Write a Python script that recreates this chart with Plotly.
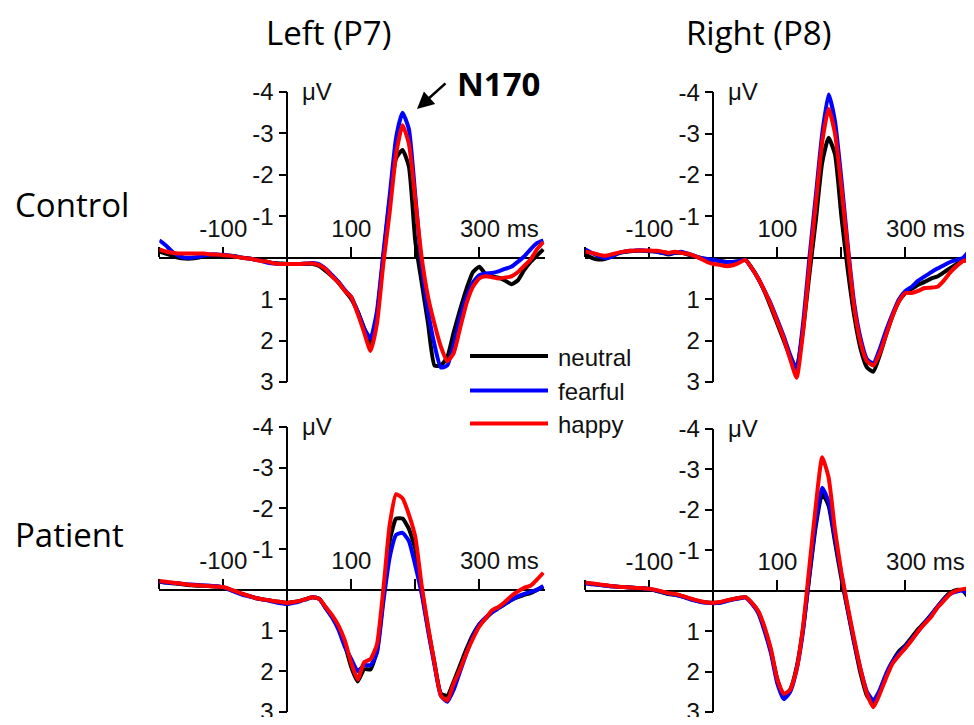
import plotly.graph_objects as go

# ---------------- data ----------------
time_ms = list(range(-200, 401, 10))

# Control, Left (P7)
ctrl_left_neutral = [-0.15, -0.1, -0.05, 0.0, 0.02, 0.02, 0.0, -0.03, -0.05, -0.05, -0.05, -0.05, -0.03, 0.0, 0.02, 0.04, 0.07, 0.1, 0.13, 0.14,
                     0.15, 0.15, 0.15, 0.15, 0.15, 0.2, 0.32, 0.45, 0.6, 0.8, 1.0, 1.3, 1.7, 2.1, 1.4, 0.0, -1.4, -2.4, -2.6, -2.2,
                     -0.4, 0.6, 1.6, 2.6, 2.6, 2.4, 1.8, 1.25, 0.75, 0.35, 0.22, 0.4, 0.45, 0.48, 0.55, 0.64, 0.55, 0.3, 0.1, -0.05, -0.2]
ctrl_left_fearful = [-0.42, -0.3, -0.15, -0.05, 0.0, 0.0, -0.02, -0.05, -0.08, -0.08, -0.07, -0.05, -0.03, 0.0, 0.02, 0.05, 0.08, 0.12, 0.14, 0.15,
                     0.15, 0.15, 0.15, 0.14, 0.13, 0.16, 0.27, 0.42, 0.58, 0.78, 0.95, 1.3, 1.7, 1.95, 1.3, -0.1, -1.5, -2.9, -3.5, -3.1,
                     -1.5, 0.2, 1.3, 2.1, 2.65, 2.6, 2.1, 1.45, 0.95, 0.6, 0.42, 0.38, 0.37, 0.33, 0.27, 0.22, 0.1, -0.03, -0.2, -0.35, -0.42]
ctrl_left_happy = [-0.2, -0.15, -0.12, -0.1, -0.1, -0.1, -0.1, -0.1, -0.08, -0.08, -0.06, -0.05, -0.02, 0.0, 0.02, 0.05, 0.08, 0.1, 0.14, 0.15,
                   0.15, 0.15, 0.15, 0.14, 0.14, 0.18, 0.28, 0.45, 0.6, 0.8, 0.95, 1.35, 1.8, 2.25, 1.6, 0.15, -1.1, -2.5, -3.2, -2.75,
                   -1.4, 0.0, 0.95, 1.6, 2.15, 2.5, 2.3, 1.7, 1.1, 0.7, 0.5, 0.45, 0.47, 0.5, 0.48, 0.45, 0.35, 0.2, 0.05, -0.2, -0.38]

# Control, Right (P8)
ctrl_right_neutral = [-0.08, 0.0, 0.04, 0.03, -0.03, -0.1, -0.14, -0.16, -0.17, -0.17, -0.16, -0.15, -0.12, -0.08, -0.12, -0.12, -0.08, -0.04, 0.0, 0.03,
                      0.05, 0.07, 0.1, 0.1, 0.08, 0.05, 0.25, 0.5, 0.82, 1.2, 1.6, 2.0, 2.4, 2.65, 1.75, 0.4, -0.9, -2.3, -2.9, -2.5,
                      -1.0, 0.3, 1.4, 2.2, 2.65, 2.75, 2.35, 1.85, 1.4, 1.05, 0.85, 0.75, 0.65, 0.58, 0.5, 0.45, 0.35, 0.25, 0.15, 0.05, 0.02]
ctrl_right_fearful = [-0.2, -0.12, -0.05, 0.0, -0.02, -0.1, -0.15, -0.17, -0.18, -0.18, -0.17, -0.15, -0.12, -0.1, -0.12, -0.15, -0.1, -0.05, 0.0, 0.03,
                      0.05, 0.08, 0.1, 0.1, 0.08, 0.05, 0.25, 0.5, 0.8, 1.12, 1.5, 1.9, 2.35, 2.7, 1.6, 0.0, -1.5, -3.0, -3.95, -3.3,
                      -1.9, -0.3, 1.1, 1.95, 2.45, 2.55, 2.2, 1.75, 1.35, 1.0, 0.8, 0.7, 0.55, 0.45, 0.35, 0.26, 0.18, 0.1, 0.05, 0.0, -0.18]
ctrl_right_happy = [-0.15, -0.12, -0.08, -0.05, -0.08, -0.12, -0.15, -0.17, -0.18, -0.18, -0.18, -0.17, -0.15, -0.12, -0.15, -0.12, -0.1, -0.05, 0.02, 0.1,
                    0.15, 0.17, 0.2, 0.18, 0.12, 0.05, 0.25, 0.5, 0.8, 1.15, 1.55, 1.95, 2.45, 2.9, 1.8, 0.2, -1.3, -2.8, -3.6, -3.0,
                    -1.7, -0.2, 1.2, 2.05, 2.5, 2.6, 2.3, 1.85, 1.4, 1.05, 0.85, 0.85, 0.8, 0.73, 0.72, 0.7, 0.55, 0.35, 0.2, 0.08, 0.06]

# Patient, Left (P7)
pat_left_neutral = [-0.2, -0.18, -0.16, -0.15, -0.13, -0.11, -0.1, -0.1, -0.09, -0.08, -0.06, -0.01, 0.05, 0.1, 0.15, 0.2, 0.23, 0.25, 0.28, 0.3,
                    0.32, 0.3, 0.27, 0.22, 0.18, 0.22, 0.44, 0.65, 0.92, 1.35, 1.9, 2.25, 1.95, 1.95, 1.5, 0.2, -1.2, -1.75, -1.75, -1.5,
                    -1.0, 0.0, 0.95, 1.8, 2.55, 2.6, 2.25, 1.85, 1.45, 1.1, 0.85, 0.7, 0.55, 0.45, 0.35, 0.25, 0.18, 0.12, 0.08, 0.0, -0.08]
pat_left_fearful = [-0.2, -0.18, -0.17, -0.16, -0.14, -0.13, -0.12, -0.11, -0.1, -0.09, -0.06, 0.0, 0.06, 0.12, 0.16, 0.2, 0.23, 0.26, 0.3, 0.33,
                    0.35, 0.32, 0.28, 0.23, 0.18, 0.22, 0.45, 0.68, 0.98, 1.4, 1.7, 2.0, 1.85, 1.85, 1.55, 0.3, -0.8, -1.35, -1.4, -1.2,
                    -0.6, 0.1, 1.0, 1.85, 2.6, 2.75, 2.45, 2.0, 1.55, 1.15, 0.85, 0.68, 0.55, 0.45, 0.35, 0.25, 0.16, 0.1, 0.05, 0.0, -0.1]
pat_left_happy = [-0.22, -0.2, -0.18, -0.16, -0.14, -0.12, -0.11, -0.1, -0.09, -0.08, -0.07, -0.02, 0.04, 0.1, 0.15, 0.2, 0.23, 0.25, 0.28, 0.3,
                  0.32, 0.3, 0.27, 0.22, 0.18, 0.22, 0.42, 0.62, 0.88, 1.25, 1.8, 2.2, 1.78, 1.7, 1.35, 0.0, -1.6, -2.35, -2.25, -1.85,
                  -1.3, -0.1, 0.9, 1.8, 2.6, 2.72, 2.3, 1.95, 1.55, 1.2, 0.9, 0.7, 0.5, 0.42, 0.3, 0.15, 0.04, -0.05, -0.1, -0.25, -0.42]

# Patient, Right (P8)
pat_right_neutral = [-0.2, -0.17, -0.15, -0.13, -0.11, -0.1, -0.09, -0.08, -0.07, -0.06, -0.04, 0.0, 0.04, 0.08, 0.1, 0.13, 0.18, 0.23, 0.27, 0.29,
                     0.3, 0.29, 0.25, 0.21, 0.18, 0.16, 0.3, 0.52, 0.95, 1.5, 2.2, 2.6, 2.45, 1.9, 0.95, -0.35, -1.6, -2.4, -2.1, -1.2,
                     -0.3, 0.5, 1.3, 2.05, 2.6, 2.78, 2.5, 2.1, 1.75, 1.5, 1.35, 1.15, 0.95, 0.78, 0.6, 0.4, 0.2, 0.05, -0.02, 0.0, 0.2]
pat_right_fearful = [-0.18, -0.16, -0.15, -0.13, -0.11, -0.1, -0.09, -0.08, -0.07, -0.06, -0.04, -0.01, 0.03, 0.07, 0.1, 0.14, 0.19, 0.24, 0.28, 0.3,
                     0.31, 0.3, 0.26, 0.22, 0.19, 0.17, 0.32, 0.55, 1.0, 1.55, 2.3, 2.68, 2.5, 1.95, 1.0, -0.4, -1.7, -2.55, -2.2, -1.3,
                     -0.4, 0.45, 1.25, 1.95, 2.5, 2.72, 2.45, 2.05, 1.75, 1.55, 1.38, 1.2, 1.0, 0.8, 0.6, 0.4, 0.22, 0.08, 0.02, 0.0, 0.1]
pat_right_happy = [-0.2, -0.18, -0.16, -0.14, -0.12, -0.1, -0.09, -0.08, -0.07, -0.06, -0.05, -0.02, 0.02, 0.06, 0.08, 0.12, 0.17, 0.22, 0.26, 0.29,
                   0.3, 0.28, 0.24, 0.21, 0.18, 0.16, 0.3, 0.5, 0.9, 1.45, 2.2, 2.55, 2.45, 1.95, 0.9, -0.6, -2.1, -3.3, -2.8, -1.5,
                   -0.45, 0.4, 1.2, 1.95, 2.55, 2.88, 2.55, 2.15, 1.8, 1.6, 1.42, 1.22, 1.0, 0.82, 0.65, 0.42, 0.25, 0.08, 0.0, -0.04, -0.06]

conditions = ["neutral", "fearful", "happy"]
cond_colors = {"neutral": "#000000", "fearful": "#0000ff", "happy": "#ff0000"}

x_tickvals = [-200, -100, 100, 200, 300]
x_ticktext = ["", "-100", "100", "", "\u00a0" * 6 + "300 ms"]
y_tickvals = [-4, -3, -2, -1, 1, 2, 3]
y_ticktext = ["-4", "-3", "-2", "-1", "1", "2", "3"]

col_titles = ["Left (P7)", "Right (P8)"]
row_titles = ["Control", "Patient"]

# ---------------- layout helpers ----------------
# The page body has an 8px margin; size the figure so the page fits the
# 974x725 window and position everything in window pixels.
WIN_W, WIN_H = 974, 725
OX, OY = 8, 8
FW, FH = WIN_W - 2 * OX, WIN_H - 2 * OY

def px(x):
    return (x - OX) / FW

def py(y):
    return 1 - (y - OY) / FH

SCALE = 0.64  # px per ms
panels = [
    dict(series=[ctrl_left_neutral, ctrl_left_fearful, ctrl_left_happy], x0=287.3, ytop=92.0, ybot=382.0),
    dict(series=[ctrl_right_neutral, ctrl_right_fearful, ctrl_right_happy], x0=713.4, ytop=92.3, ybot=382.0),
    dict(series=[pat_left_neutral, pat_left_fearful, pat_left_happy], x0=287.3, ytop=427.0, ybot=712.0),
    dict(series=[pat_right_neutral, pat_right_fearful, pat_right_happy], x0=713.4, ytop=429.0, ybot=712.0),
]
XMIN, XMAX = -200, 402

fig = go.Figure()
tick_font = dict(family="Liberation Sans, Arial, sans-serif", size=24, color="#111111")

for i, p in enumerate(panels, start=1):
    xa = "x" if i == 1 else f"x{i}"
    ya = "y" if i == 1 else f"y{i}"
    for cond, vals in zip(conditions, p["series"]):
        fig.add_trace(go.Scatter(
            x=time_ms, y=vals, mode="lines", name=cond, showlegend=False,
            line=dict(color=cond_colors[cond], width=4, shape="spline", smoothing=0.5),
            xaxis=xa, yaxis=ya, hoverinfo="skip"))
    left = max(p["x0"] + XMIN * SCALE, OX)
    right = min(p["x0"] + XMAX * SCALE, OX + FW)
    xr = [(left - p["x0"]) / SCALE, (right - p["x0"]) / SCALE]
    unit = (p["ybot"] - p["ytop"]) / 7.0
    zero_px = p["ytop"] + 4 * unit
    top = max(p["ytop"], OY)
    bot = min(p["ybot"], OY + FH)
    yr = [round((bot - zero_px) / unit, 6) + 1e-6, round((top - zero_px) / unit, 6) - 1e-6]
    xkey = "xaxis" if i == 1 else f"xaxis{i}"
    ykey = "yaxis" if i == 1 else f"yaxis{i}"
    fig.update_layout({
        xkey: dict(domain=[px(left), px(right)], range=xr, anchor="free",
                   position=py(zero_px), side="top", showline=True, linecolor="black",
                   linewidth=1.6, ticks="outside", ticklen=10, tickwidth=1.6, tickcolor="black",
                   tickvals=x_tickvals, ticktext=x_ticktext, tickfont=tick_font, automargin=False,
                   ticklabeloverflow="allow",
                   showgrid=False, zeroline=False, layer="below traces", fixedrange=True),
        ykey: dict(domain=[py(bot), py(top)], range=yr, anchor="free",
                   position=px(p["x0"]), side="left", showline=True, linecolor="black",
                   linewidth=1.6, ticks="outside", ticklen=8, tickwidth=1.6, tickcolor="black",
                   tickvals=y_tickvals, ticktext=y_ticktext, tickfont=tick_font, automargin=False,
                   ticklabeloverflow="allow",
                   showgrid=False, zeroline=False, layer="below traces", fixedrange=True),
    })

annotations = []
title_font = dict(family="Open Sans, sans-serif", size=33, color="black")
for txt, cx in zip(col_titles, [328, 758]):
    annotations.append(dict(text=txt, x=px(cx), y=py(33), xref="paper", yref="paper",
                            xanchor="center", yanchor="middle", showarrow=False, font=title_font))
for txt, cy in zip(row_titles, [204, 534]):
    annotations.append(dict(text=txt, x=px(13), y=py(cy), xref="paper", yref="paper",
                            xanchor="left", yanchor="middle", showarrow=False, font=title_font))
for p in panels:
    annotations.append(dict(text="\u03bcV", x=px(p["x0"] + 13), y=py(p["ytop"] - 1), xref="paper", yref="paper",
                            xanchor="left", yanchor="middle", showarrow=False, font=tick_font))
annotations.append(dict(text="<b>N170</b>", x=px(455), y=py(83), xref="paper", yref="paper",
                        xanchor="left", yanchor="middle", showarrow=False,
                        font=dict(family="Open Sans, sans-serif", size=33, color="black")))
annotations.append(dict(text="", x=px(417), y=py(109), xref="paper", yref="paper",
                        ax=30, ay=-27, showarrow=True, arrowhead=2, arrowsize=1.3,
                        arrowwidth=2.6, arrowcolor="black", standoff=0, startstandoff=0))

shapes = []
legend_y = [356, 390.5, 423.5]
for cond, ly in zip(conditions, legend_y):
    shapes.append(dict(type="line", xref="paper", yref="paper", x0=px(470), x1=px(548),
                       y0=py(ly), y1=py(ly), line=dict(color=cond_colors[cond], width=4.2)))
    annotations.append(dict(text=cond, x=px(556), y=py(ly + 1), xref="paper", yref="paper",
                            xanchor="left", yanchor="middle", showarrow=False,
                            font=dict(family="Liberation Sans, Arial, sans-serif", size=24, color="#111111")))

fig.update_layout(
    width=FW, height=FH, margin=dict(l=0, r=0, t=0, b=0, pad=0, autoexpand=False),
    paper_bgcolor="white", plot_bgcolor="white",
    annotations=annotations, shapes=shapes, showlegend=False,
)

fig.write_html("out.html")
